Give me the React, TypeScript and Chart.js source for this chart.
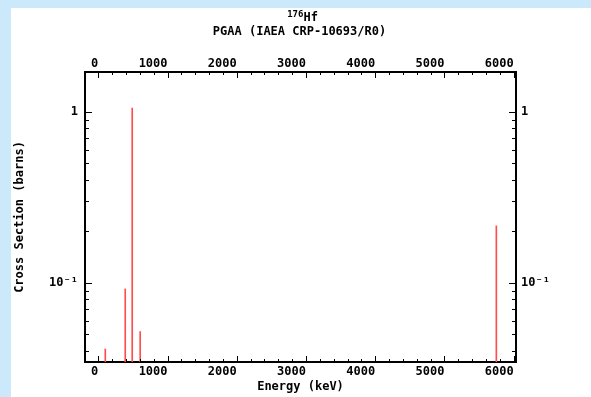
import { useEffect, useRef } from 'react';
import { Chart, registerables } from 'chart.js';

Chart.register(...registerables);

// ---- data ----
const ENERGIES_KEV = [101, 389, 490, 605, 5749];
const CROSS_SECTIONS_B = [0.041, 0.092, 1.05, 0.0518, 0.215];

const X_TICKS = [0, 1000, 2000, 3000, 4000, 5000, 6000];
const X_TICK_LABELS = ['0', '1000', '2000', '3000', '4000', '5000', '6000'];
const X_MINOR_TICKS = [200, 400, 600, 800, 1200, 1400, 1600, 1800, 2200, 2400, 2600, 2800, 3200, 3400, 3600, 3800, 4200, 4400, 4600, 4800, 5200, 5400, 5600, 5800];
const Y_TICKS = [0.1, 1];
const Y_TICK_LABELS = ['10\u207B\u00B9', '1'];
const Y_MINOR_TICKS = [0.04, 0.05, 0.06, 0.07, 0.08, 0.09, 0.2, 0.3, 0.4, 0.5, 0.6, 0.7, 0.8, 0.9];

const X_MIN = -192;
const X_MAX = 6033;
const Y_MIN = 0.0344;
const Y_MAX = 1.706;

const TITLE_ISOTOPE_MASS = '176';
const TITLE_ISOTOPE = 'Hf';
const TITLE_LINE2 = 'PGAA (IAEA CRP-10693/R0)';
const X_TITLE = 'Energy (keV)';
const Y_TITLE = 'Cross Section (barns)';

const FAMILY = '"DejaVu Sans Mono", monospace';
const BG = '#cce9fc';
const LINE_COLOR = '#ff4d4d';

export default function App() {
  const ref = useRef<HTMLCanvasElement | null>(null);

  useEffect(() => {
    const canvas = ref.current;
    if (!canvas) return;
    const font = { family: FAMILY, weight: 'bold' as const, size: 12, lineHeight: 1.2 };

    const frame = {
      id: 'frame',
      beforeDraw(chart: any) {
        const { ctx, width, height } = chart;
        ctx.save();
        ctx.fillStyle = BG;
        ctx.fillRect(0, 0, width, height);
        ctx.fillStyle = '#ffffff';
        ctx.fillRect(11, 8, width - 11, height - 8);
        ctx.restore();
      },
      afterDraw(chart: any) {
        const { ctx } = chart;
        const ca = chart.chartArea;
        const sx = chart.scales.x;
        const sy = chart.scales.y;
        ctx.save();
        ctx.strokeStyle = '#000';
        ctx.lineWidth = 1;
        const vTick = (v: number, len: number) => {
          const p = Math.round(sx.getPixelForValue(v)) + 0.5;
          ctx.beginPath();
          ctx.moveTo(p, ca.bottom);
          ctx.lineTo(p, ca.bottom - len);
          ctx.moveTo(p, ca.top);
          ctx.lineTo(p, ca.top + len);
          ctx.stroke();
        };
        const hTick = (v: number, len: number) => {
          const p = Math.round(sy.getPixelForValue(v)) + 0.5;
          ctx.beginPath();
          ctx.moveTo(ca.left, p);
          ctx.lineTo(ca.left + len, p);
          ctx.moveTo(ca.right, p);
          ctx.lineTo(ca.right - len, p);
          ctx.stroke();
        };
        X_TICKS.forEach((v) => vTick(v, 6));
        X_MINOR_TICKS.forEach((v) => vTick(v, 3));
        Y_TICKS.forEach((v) => hTick(v, 7));
        Y_MINOR_TICKS.forEach((v) => hTick(v, 4));

        // title
        ctx.fillStyle = '#000';
        ctx.textBaseline = 'alphabetic';
        ctx.font = `bold 9px ${FAMILY}`;
        const wSup = ctx.measureText(TITLE_ISOTOPE_MASS).width;
        ctx.font = `bold 12px ${FAMILY}`;
        const wEl = ctx.measureText(TITLE_ISOTOPE).width;
        const cx = (ca.left + ca.right) / 2 + 2;
        const x0 = cx - (wSup + wEl) / 2;
        ctx.font = `bold 9px ${FAMILY}`;
        ctx.textAlign = 'left';
        ctx.fillText(TITLE_ISOTOPE_MASS, x0, 17);
        ctx.font = `bold 12px ${FAMILY}`;
        ctx.fillText(TITLE_ISOTOPE, x0 + wSup, 21);
        ctx.textAlign = 'center';
        ctx.textBaseline = 'middle';
        ctx.fillText(TITLE_LINE2, (ca.left + ca.right) / 2 - 1, 32);
        ctx.restore();
      },
    };

    const xScale = (position: 'top' | 'bottom', withTitle: boolean, h: number) => ({
      type: 'linear' as const,
      position,
      min: X_MIN,
      max: X_MAX,
      offset: false,
      grid: { display: false, drawTicks: false },
      border: { display: true, color: '#000', width: 2 },
      ticks: {
        font,
        color: '#000',
        padding: position === 'bottom' ? 3 : 1,
        align: 'end' as const,
        maxRotation: 0,
        minRotation: 0,
        autoSkip: false,
        callback: (v: any) => {
          const i = X_TICKS.indexOf(Number(v));
          return i >= 0 ? X_TICK_LABELS[i] : '';
        },
      },
      title: withTitle
        ? { display: true, text: X_TITLE, font, color: '#000', padding: { top: 0, bottom: 3 } }
        : { display: false },
      afterBuildTicks: (s: any) => {
        s.ticks = X_TICKS.map((value) => ({ value }));
      },
      afterFit: (s: any) => {
        s.height = h;
      },
    });

    const yScale = (position: 'left' | 'right', withTitle: boolean, w: number) => ({
      type: 'logarithmic' as const,
      position,
      min: Y_MIN,
      max: Y_MAX,
      grid: { display: false, drawTicks: false },
      border: { display: true, color: '#000', width: 2 },
      ticks: {
        font,
        color: '#000',
        padding: position === 'left' ? 7 : 5,
        autoSkip: false,
        callback: (v: any) => {
          const i = Y_TICKS.findIndex((t) => Math.abs(t - Number(v)) < 1e-9);
          return i >= 0 ? Y_TICK_LABELS[i] : '';
        },
      },
      title: withTitle
        ? { display: true, text: Y_TITLE, font, color: '#000', padding: { top: 13, bottom: 0 } }
        : { display: false },
      afterBuildTicks: (s: any) => {
        s.ticks = Y_TICKS.map((value) => ({ value }));
      },
      afterFit: (s: any) => {
        s.width = w;
      },
    });

    const chart = new Chart(canvas, {
      type: 'bar',
      data: {
        datasets: [
          {
            data: ENERGIES_KEV.map((e, i) => ({ x: e, y: [Y_MIN, CROSS_SECTIONS_B[i]] })) as any,
            backgroundColor: LINE_COLOR,
            borderWidth: 0,
            barThickness: 1,
            grouped: false,
            xAxisID: 'x',
            yAxisID: 'y',
          },
        ],
      },
      options: {
        responsive: false,
        animation: false,
        devicePixelRatio: 1,
        layout: { padding: 0 },
        plugins: { legend: { display: false }, title: { display: false }, tooltip: { enabled: false } },
        scales: {
          x: xScale('bottom', true, 35),
          x2: xScale('top', false, 72),
          y: yScale('left', true, 85),
          y2: yScale('right', false, 75),
        } as any,
      },
      plugins: [frame],
    });
    return () => chart.destroy();
  }, []);

  return (
    <div style={{ position: 'absolute', left: 0, top: 0, width: 591, height: 397 }}>
      <canvas ref={ref} width={591} height={397} style={{ display: 'block', width: 591, height: 397 }} />
    </div>
  );
}
